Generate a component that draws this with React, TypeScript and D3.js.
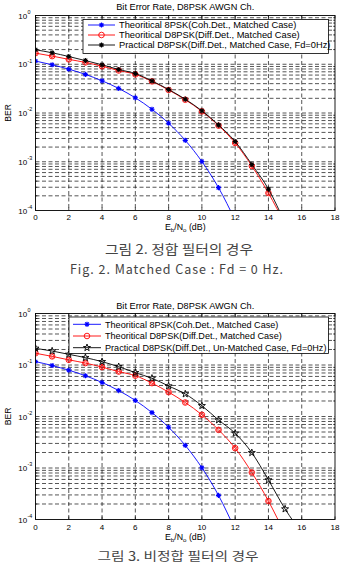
import React from 'react';
import * as d3 from 'd3';

// ---- data ----
const ebNoDb = [0, 1, 2, 3, 4, 5, 6, 7, 8, 9, 10, 11, 12, 13, 14, 15, 16];
const xTickValues = [0, 2, 4, 6, 8, 10, 12, 14, 16, 18];
const yDecadeExponents = [0, -1, -2, -3, -4];
const minorMultipliers = [2, 3, 4, 5, 6, 7, 8, 9];

const berCoherent8psk = [0.1163, 0.0977, 0.0793, 0.0619, 0.0458, 0.0319, 0.0205, 0.0119, 0.00617, 0.00275, 0.00101, 0.000294, 0.000063];
const berDiffD8psk = [0.169, 0.147, 0.126, 0.109, 0.091, 0.0745, 0.062, 0.0445, 0.0297, 0.0187, 0.0108, 0.0055, 0.00243, 0.00082, 0.000228, 0.000052];
const berPracticalMatched = [0.198, 0.172, 0.144, 0.119, 0.0975, 0.078, 0.0645, 0.0455, 0.0303, 0.0192, 0.0111, 0.0057, 0.0026, 0.00088, 0.000275, 0.000055];
const berPracticalUnmatched = [0.211, 0.187, 0.161, 0.139, 0.116, 0.0927, 0.0709, 0.0552, 0.0391, 0.0274, 0.0162, 0.00855, 0.00472, 0.00198, 0.000585, 0.00016, 0.000055];

const chartTitle = 'Bit Error Rate, D8PSK AWGN Ch.';
const legendLabels1 = [
  'Theoritical 8PSK(Coh.Det., Matched Case)',
  'Theoritical D8PSK(Diff.Det., Matched Case)',
  'Practical D8PSK(Diff.Det., Matched Case, Fd=0Hz)',
];
const legendLabels2 = [
  'Theoritical 8PSK(Coh.Det., Matched Case)',
  'Theoritical D8PSK(Diff.Det., Matched Case)',
  'Practical D8PSK(Diff.Det., Un-Matched Case, Fd=0Hz)',
];
const captionKo1 = '그림 2. 정합 필터의 경우';
const captionEn1 = 'Fig. 2. Matched Case : Fd = 0 Hz.';
const captionKo2 = '그림 3. 비정합 필터의 경우';

type MarkerKind = 'asterisk' | 'circle' | 'star';
interface Series { values: number[]; color: string; marker: MarkerKind; label: string; }

const FONT = '"Liberation Sans", Arial, sans-serif';

function markerPath(kind: MarkerKind, cx: number, cy: number, legend = false): JSX.Element {
  if (kind === 'asterisk') {
    const s = 2.6, k = 1.85;
    const d = `M${cx - s},${cy}L${cx + s},${cy}M${cx},${cy - s}L${cx},${cy + s}M${cx - k},${cy - k}L${cx + k},${cy + k}M${cx - k},${cy + k}L${cx + k},${cy - k}`;
    return <path d={d} strokeWidth={1.1} fill="none" />;
  }
  if (kind === 'circle') {
    const r = 2.8, q = 2.1;
    return (
      <g fill="none">
        <circle cx={cx} cy={cy} r={r} strokeWidth={0.9} />
        {!legend && <path d={`M${cx},${cy - q}L${cx + q},${cy}L${cx},${cy + q}L${cx - q},${cy}Z`} strokeWidth={0.8} />}
      </g>
    );
  }
  const pts: [number, number][] = [];
  for (let i = 0; i < 10; i++) {
    const r = i % 2 === 0 ? 3.7 : 1.5;
    const a = -Math.PI / 2 + (i * Math.PI) / 5;
    pts.push([cx + r * Math.cos(a), cy + r * Math.sin(a)]);
  }
  return <path d={'M' + pts.map((p) => p.join(',')).join('L') + 'Z'} fill="none" strokeWidth={0.9} />;
}

interface ChartProps {
  id: string;
  top: number; bottom: number; left: number; right: number;
  titleY: number; xTickY: number; xLabelY: number;
  legendBox: [number, number, number, number];
  legendRowY: number; legendRowDy: number; legendLineX: [number, number]; legendTextX: number;
  legendFont: number;
  series: Series[];
}

function Chart(p: ChartProps) {
  const x = d3.scaleLinear().domain([0, 18]).range([p.left, p.right]);
  const y = d3.scaleLog().domain([1, 1e-4]).range([p.top, p.bottom]);
  const line = d3.line<number>().x((_, i) => x(ebNoDb[i])).y((d) => y(d)).curve(d3.curveMonotoneX);
  const grid = '#1e1e1e';
  const dash = '4,2.5';
  const minorVals: number[] = [];
  yDecadeExponents.slice(0, 4).forEach((e) => minorMultipliers.forEach((m) => minorVals.push(m * Math.pow(10, e - 1))));
  const [lx0, ly0, lx1, ly1] = p.legendBox;
  return (
    <g fontFamily={FONT}>
      <defs>
        <clipPath id={p.id}>
          <rect x={p.left} y={p.top} width={p.right - p.left} height={p.bottom - p.top} />
        </clipPath>
      </defs>
      <rect x={p.left} y={p.top} width={p.right - p.left} height={p.bottom - p.top} fill="#fff" />
      {/* grid */}
      <g stroke={grid} strokeWidth={0.75} strokeDasharray={dash}>
        {xTickValues.slice(1, -1).map((v) => (
          <line key={'gx' + v} x1={x(v)} x2={x(v)} y1={p.top} y2={p.bottom} />
        ))}
        {yDecadeExponents.slice(1, -1).map((e) => (
          <line key={'gy' + e} x1={p.left} x2={p.right} y1={y(Math.pow(10, e))} y2={y(Math.pow(10, e))} />
        ))}
        {minorVals.map((v) => (
          <line key={'gm' + v} x1={p.left} x2={p.right} y1={y(v)} y2={y(v)} />
        ))}
      </g>
      {/* ticks */}
      <g stroke="#000" strokeWidth={0.7}>
        {xTickValues.map((v) => (
          <g key={'tx' + v}>
            <line x1={x(v)} x2={x(v)} y1={p.bottom} y2={p.bottom - 3} />
            <line x1={x(v)} x2={x(v)} y1={p.top} y2={p.top + 3} />
          </g>
        ))}
        {minorVals.map((v) => (
          <g key={'tm' + v}>
            <line x1={p.left} x2={p.left + 1.8} y1={y(v)} y2={y(v)} />
            <line x1={p.right} x2={p.right - 1.8} y1={y(v)} y2={y(v)} />
          </g>
        ))}
      </g>
      {/* series */}
      <g clipPath={`url(#${p.id})`}>
        {p.series.map((s, si) => (
          <g key={'s' + si} stroke={s.color}>
            <path d={line(s.values) || ''} fill="none" strokeWidth={0.9} />
            {s.values.map((v, i) => <g key={i}>{markerPath(s.marker, x(ebNoDb[i]), y(v))}</g>)}
          </g>
        ))}
      </g>
      {/* legend */}
      <rect x={lx0} y={ly0} width={lx1 - lx0} height={ly1 - ly0} fill="#fff" stroke="#000" strokeWidth={0.8} />
      {p.series.map((s, i) => {
        const ry = p.legendRowY + i * p.legendRowDy;
        const mx = (p.legendLineX[0] + p.legendLineX[1]) / 2;
        return (
          <g key={'l' + i}>
            <g stroke={s.color}>
              <line x1={p.legendLineX[0]} x2={p.legendLineX[1]} y1={ry} y2={ry} strokeWidth={0.9} />
              {markerPath(s.marker, mx, ry, true)}
            </g>
            <text x={p.legendTextX} y={ry + 3.3} fontSize={p.legendFont} fill="#000">{s.label}</text>
          </g>
        );
      })}
      {/* frame */}
      <rect x={p.left} y={p.top} width={p.right - p.left} height={p.bottom - p.top} fill="none" stroke="#000" strokeWidth={0.9} />
      {/* title */}
      <text x={(p.left + p.right) / 2} y={p.titleY} fontSize={9.2} textAnchor="middle" fill="#000">{chartTitle}</text>
      {/* x tick labels */}
      {xTickValues.map((v) => (
        <text key={'xl' + v} x={x(v)} y={p.xTickY} fontSize={8} textAnchor="middle" fill="#000">{v}</text>
      ))}
      {/* y tick labels */}
      {yDecadeExponents.map((e) => {
        const ty = y(Math.pow(10, e));
        return (
          <g key={'yl' + e} fill="#000">
            <text x={p.left - 8.3} y={ty + 3} fontSize={8} textAnchor="end">10</text>
            <text x={p.left - 8} y={ty - 1.6} fontSize={5.4} textAnchor="start">{e}</text>
          </g>
        );
      })}
      {/* axis labels */}
      <text x={(p.left + p.right) / 2} y={p.xLabelY} fontSize={8.8} textAnchor="middle" fill="#000">
        E<tspan fontSize={6.2} dy={2}>b</tspan><tspan dy={-2}>/N</tspan><tspan fontSize={6.2} dy={2}>o</tspan><tspan dy={-2}> (dB)</tspan>
      </text>
      <text transform={`translate(11,${(p.top + p.bottom) / 2}) rotate(-90)`} fontSize={8.6} textAnchor="middle" fill="#000">BER</text>
    </g>
  );
}

export default function App() {
  const series1: Series[] = [
    { values: berCoherent8psk, color: '#0000ff', marker: 'asterisk', label: legendLabels1[0] },
    { values: berDiffD8psk, color: '#ff0000', marker: 'circle', label: legendLabels1[1] },
    { values: berPracticalMatched, color: '#000000', marker: 'asterisk', label: legendLabels1[2] },
  ];
  const series2: Series[] = [
    { values: berCoherent8psk, color: '#0000ff', marker: 'asterisk', label: legendLabels2[0] },
    { values: berDiffD8psk, color: '#ff0000', marker: 'circle', label: legendLabels2[1] },
    { values: berPracticalUnmatched, color: '#000000', marker: 'star', label: legendLabels2[2] },
  ];
  const koFont = '"Noto Sans CJK KR", sans-serif';
  return (
    <svg width={341} height={562} style={{ position: 'absolute', left: 0, top: 0, background: '#fff' }}>
      <rect width={341} height={562} fill="#fff" />
      <Chart id="clip1" top={15.5} bottom={210.5} left={35.5} right={335}
        titleY={9.5} xTickY={220} xLabelY={230}
        legendBox={[83, 19.5, 328.5, 53.5]} legendRowY={25} legendRowDy={10} legendLineX={[88, 115]} legendTextX={119}
        legendFont={9.3} series={series1} />
      <Chart id="clip2" top={313.5} bottom={519.5} left={35.5} right={335}
        titleY={308.5} xTickY={530} xLabelY={540}
        legendBox={[69, 317, 328.5, 353.5]} legendRowY={324.3} legendRowDy={11.7} legendLineX={[73, 101]} legendTextX={105}
        legendFont={9.1} series={series2} />
      <text x={179} y={253.5} fontFamily={koFont} fontSize={13} fill="#444" textAnchor="middle" textLength={148} lengthAdjust="spacingAndGlyphs">{captionKo1}</text>
      <text x={176.5} y={274} fontFamily={koFont} fontSize={12.5} fill="#444" textAnchor="middle" textLength={213} lengthAdjust="spacing">{captionEn1}</text>
      <text x={178} y={560.5} fontFamily={koFont} fontSize={12.5} fill="#444" textAnchor="middle" textLength={161} lengthAdjust="spacingAndGlyphs">{captionKo2}</text>
    </svg>
  );
}
